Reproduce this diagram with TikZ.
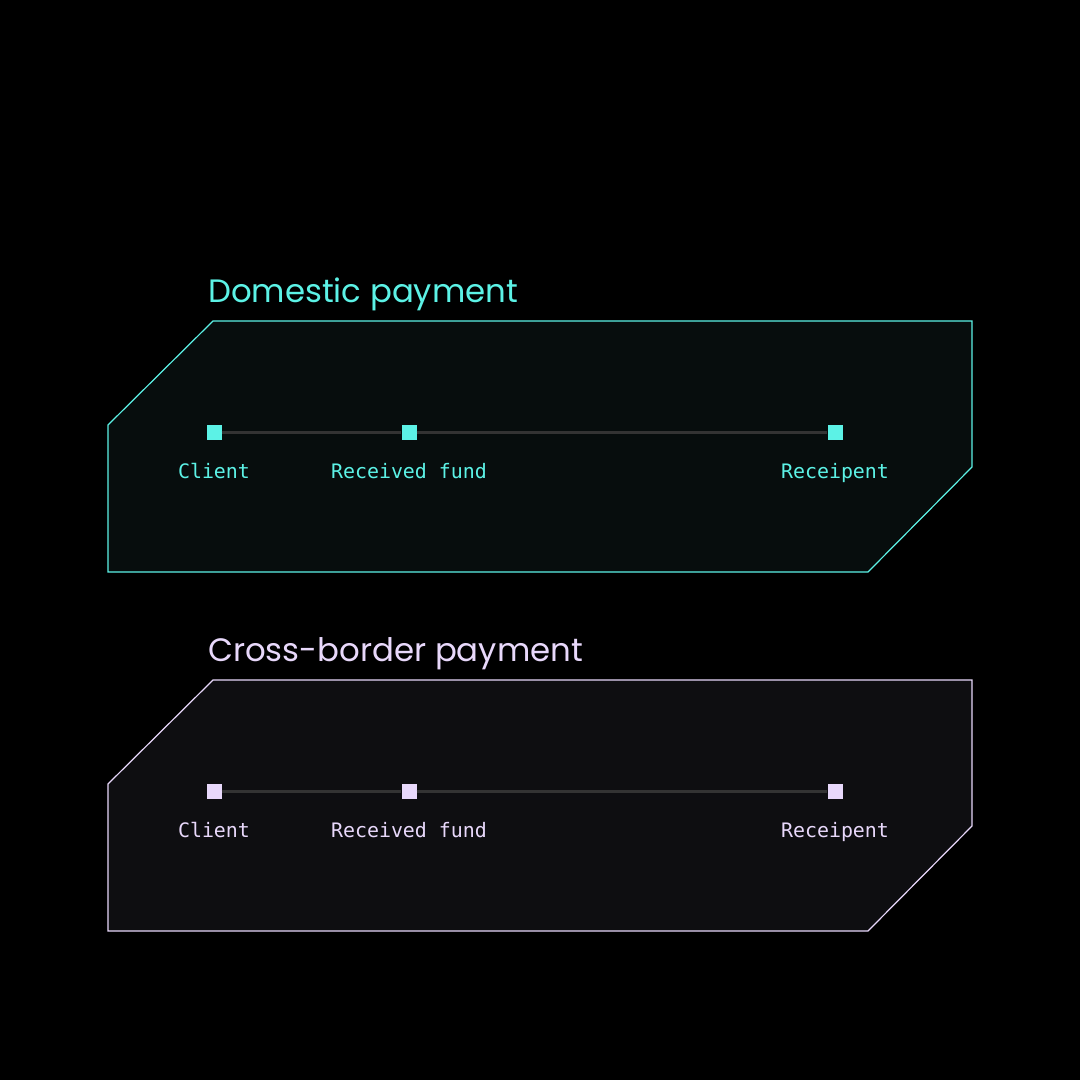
\documentclass[tikz,border=0pt]{standalone}
\usepackage{fontspec}
\setmainfont{Poppins}
\newfontfamily\monofont{DejaVu Sans Mono}
\usetikzlibrary{positioning}
\definecolor{tealc}{HTML}{5CF2E6}
\definecolor{lavc}{HTML}{E8D8FB}
\definecolor{tealbg}{HTML}{070D0D}
\definecolor{lavbg}{HTML}{0E0E11}
\definecolor{railc}{HTML}{333333}
\begin{document}
\begin{tikzpicture}[x=1bp, y=-1bp]
  \tikzset{
    panel/.style={line width=1.2bp},
    stop/.style={rectangle, inner sep=0pt, minimum size=15bp},
    stoplbl/.style={anchor=base, font=\monofont\fontsize{20}{20}\selectfont},
    heading/.style={anchor=base west, inner sep=0pt, font=\fontsize{32.5}{33}\selectfont},
    rail/.style={railc, line width=3bp},
  }
  \fill[black] (0,0) rectangle (1080,1080);
  \useasboundingbox (0,0) rectangle (1080,1080);
  % Two payment panels
  \foreach \dy/\col/\bg/\ttl/\n in {0/tealc/tealbg/Domestic payment/dom,359/lavc/lavbg/Cross-border payment/xb}{
    \begin{scope}[yshift=-\dy bp]
      \draw[panel, draw=\col, fill=\bg] (213,321) -- (972,321) -- (972,467) -- (868,572)
        -- (108,572) -- (108,425) -- cycle;
      \node[heading, text=\col] (title-\n) at (208,302) {\ttl};
      \node[stop, fill=\col] (client-\n) at (214,432) {};
      \node[stop, fill=\col] (fund-\n)   at (409,432) {};
      \node[stop, fill=\col] (recp-\n)   at (835,432) {};
      \draw[rail] (client-\n) -- (fund-\n) -- (recp-\n);
      \node[stoplbl, text=\col] (client-lbl-\n) at (214,478) {Client};
      \node[stoplbl, text=\col] (fund-lbl-\n)   at (409,478) {Received fund};
      \node[stoplbl, text=\col] (recp-lbl-\n)   at (835,478) {Receipent};
    \end{scope}
  }
\end{tikzpicture}
\end{document}
